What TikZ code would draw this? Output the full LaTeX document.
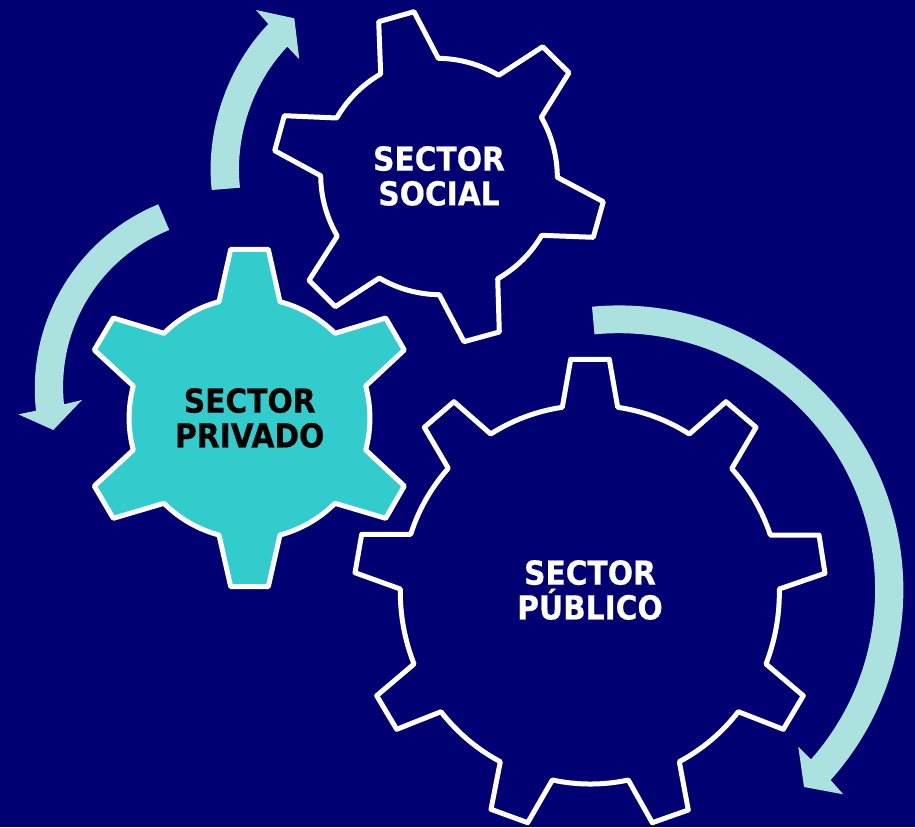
\documentclass[tikz,border=0pt]{standalone}
\usepackage{fontspec}
\setmainfont{DejaVu Sans Condensed}[BoldFont={DejaVu Sans Condensed Bold},BoldFeatures={FakeBold=0.5}]
\definecolor{navyback}{HTML}{000072}
\definecolor{tealgear}{HTML}{33CCCC}
\definecolor{paleband}{HTML}{ABE2E0}
\tikzset{
  gearline/.style={draw=white,line width=5pt,line join=round},
  rim/.style={bend left=#1,looseness=.87},
  band/.style={fill=paleband},
  gearlabel/.style={align=center,inner sep=0pt,font=\fontsize{33}{34.8}\selectfont\bfseries}
}

\begin{document}
\begin{tikzpicture}[x=1pt,y=-1pt]
  \useasboundingbox (0,0) rectangle (915,827);
  \fill[navyback] (0,0) rectangle (915,827);
  \draw[band,draw=none] (211.7,190) to[rim=25] (268.3,24) -- (256,10) -- (294.3,18.3) -- (299.3,59.3)
    -- (287.3,46.7) to[rim=-25] (240,187.7) -- cycle;
  \draw[band,draw=none] (158.3,204.3) to[bend right=37,looseness=.95] (36,410.7) -- (18.3,414.3) -- (53.3,430) -- (82,400)
    -- (64,404.3) to[bend left=37,looseness=.95] (169.3,230) -- cycle;
  \draw[band,draw=none] (592,306.7) arc[start angle=-95.4,end angle=41.9,radius=284.6]
    -- (843.3,794.3) -- (804,787) -- (798.3,746.7) -- (811,759.3)
    arc[start angle=41.4,end angle=-95.4,radius=256.5] -- cycle;
  \draw[gearline] (378.7,21.7) -- (414,11.7) -- (438.3,58.3) to[rim=15] (498.7,75.3)
    -- (542.7,46.7) -- (569,72.7) -- (541.3,117.3) to[rim=15] (557.3,177.3)
    -- (603.3,201.7) -- (593.3,237.3) -- (541.7,235.3) to[rim=15] (497.7,278.7)
    -- (499.3,332) -- (464,341.7) -- (439.3,294.7) to[rim=15] (379.3,278)
    -- (335.3,306.7) -- (309,280.3) -- (337.3,236) to[rim=15] (320.7,175.7)
    -- (274.7,150.7) -- (284.3,115.7) -- (336.7,118) to[rim=15] (380.7,74) -- cycle;
  \draw[gearline,fill=tealgear] (230.7,249.3) -- (268.3,249.3) -- (280,301.7) to[rim=15] (335,333.3)
    -- (385.7,318) -- (404.3,350) -- (365.7,386) to[rim=15] (365.7,450)
    -- (404.3,486) -- (385.7,518.3) -- (335,503.3) to[rim=15] (280,535)
    -- (268.3,586.7) -- (230.7,586.7) -- (219,535) to[rim=15] (164,503.3)
    -- (113.3,518.3) -- (94.3,486) -- (133.3,450) to[rim=15] (133.3,386)
    -- (94.3,350) -- (113.3,318) -- (164,333.3) to[rim=15] (219,301.7) -- cycle;
  \draw[gearline] (570.7,359.3) -- (609.3,359.3) -- (617.7,407.3) to[rim=12] (689.3,434)
    -- (726,401.7) -- (756,427.3) -- (731.7,468.7) to[rim=12] (770.3,535)
    -- (819,535) -- (825,573.3) -- (779.3,589) to[rim=11] (766,664)
    -- (803.3,695.7) -- (783.3,729.3) -- (738.3,711.7) to[rim=12] (679.3,761.7)
    -- (688.3,810) -- (652.3,822.7) -- (628.3,780) to[rim=12] (552.3,780)
    -- (527.7,822.7) -- (491,809.3) -- (500.3,761.7) to[rim=12] (441,711.7)
    -- (396.7,729.3) -- (376.7,695.7) -- (414,664) to[rim=11] (400.3,589)
    -- (355,572.7) -- (361.7,534.3) -- (410.7,534.3) to[rim=12] (448.3,468.3)
    -- (424.3,427.3) -- (454,401.7) -- (490.7,434) to[rim=12] (562.3,407.3) -- cycle;
  \node[gearlabel,text=white] (social) at (439,176) {SECTOR\\SOCIAL};
  \node[gearlabel,text=black] (privado) at (249.7,418) {SECTOR\\PRIVADO};
  \node[gearlabel,text=white] (publico) at (590,590) {SECTOR\\PÚBLICO};
\end{tikzpicture}
\end{document}
